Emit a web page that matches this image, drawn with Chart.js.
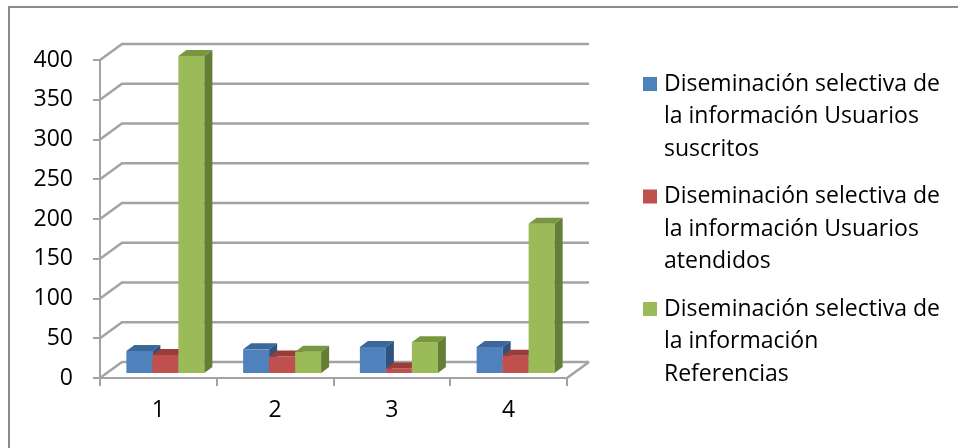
<!DOCTYPE html>
<html>
<head>
<meta charset="utf-8">
<script src="https://cdn.jsdelivr.net/npm/chart.js@4.4.1/dist/chart.umd.min.js"></script>
<style>
  html, body { margin: 0; padding: 0; background: #fff; }
  #wrap { position: relative; width: 958px; height: 448px; overflow: hidden; }
  #frame { position: absolute; left: 8px; top: 6px; width: 1000px; height: 500px;
           border: 2px solid #8c8c8c; pointer-events: none; }
</style>
</head>
<body>
<div id="wrap">
  <canvas id="chart" width="958" height="448"></canvas>
  <div id="frame"></div>
</div>
<script>
const categories = ["1", "2", "3", "4"];
const suscritos = [29, 31, 34, 34];
const atendidos = [24, 22, 7, 23];
const referencias = [400, 28, 40, 189];
const yTicks = [0, 50, 100, 150, 200, 250, 300, 350, 400];

const legendLines = [
  ["Diseminación selectiva de", "la información Usuarios", "suscritos"],
  ["Diseminación selectiva de", "la información Usuarios", "atendidos"],
  ["Diseminación selectiva de", "la información", "Referencias"]
];

const frontColors = ["#4F81BD", "#C0504D", "#9BBB59"];
const topColors = ["#3B679B", "#9A3D3A", "#7A973F"];
const sideColors = ["#2F5280", "#843230", "#657E35"];

const FONT = "'Open Sans', 'Liberation Sans', sans-serif";
const gridGray = "#a3a3a3";

// 3d offsets (wall depth and bar depth)
const wallDx = 22, wallDy = -16;
const barShiftX = 7, barShiftY = -4;
const barDx = 8, barDy = -6;

function drawFaces(ctx, bar, i) {
  const l = bar.x - bar.width / 2, r = bar.x + bar.width / 2;
  const t = bar.y, b = bar.base;
  ctx.fillStyle = topColors[i];
  ctx.beginPath();
  ctx.moveTo(l, t);
  ctx.lineTo(l + barDx, t + barDy);
  ctx.lineTo(r + barDx, t + barDy);
  ctx.lineTo(r, t);
  ctx.closePath();
  ctx.fill();
  ctx.fillStyle = sideColors[i];
  ctx.beginPath();
  ctx.moveTo(r, t);
  ctx.lineTo(r + barDx, t + barDy);
  ctx.lineTo(r + barDx, b + barDy);
  ctx.lineTo(r, b);
  ctx.closePath();
  ctx.fill();
}

const threeD = {
  id: "threeD",
  beforeDatasetsDraw(chart) {
    const { ctx, chartArea, scales } = chart;
    const y = scales.y;
    ctx.save();
    ctx.strokeStyle = gridGray;
    ctx.lineWidth = 2.5;
    yTicks.forEach(v => {
      const py = y.getPixelForValue(v);
      ctx.beginPath();
      ctx.moveTo(chartArea.left, py);
      ctx.lineTo(chartArea.left + wallDx, py + wallDy);
      ctx.lineTo(chartArea.right + wallDx, py + wallDy);
      ctx.stroke();
    });
    // floor right edge
    const p0 = y.getPixelForValue(0);
    ctx.beginPath();
    ctx.moveTo(chartArea.right, p0);
    ctx.lineTo(chartArea.right + wallDx, p0 + wallDy);
    ctx.stroke();
    ctx.restore();

    // bars left to right so each one hides the side of the previous
    ctx.save();
    ctx.translate(barShiftX, barShiftY);
    chart.data.datasets.forEach((ds, i) => {
      chart.getDatasetMeta(i).data.forEach(bar => {
        bar.draw(ctx);
        drawFaces(ctx, bar, i);
      });
    });
    ctx.restore();
    return false;
  },
  afterDraw(chart) {
    const ctx = chart.ctx;
    ctx.save();
    ctx.font = "23px " + FONT;
    ctx.textBaseline = "middle";
    ctx.textAlign = "left";
    const lineH = 32.5;
    let top = 84;
    legendLines.forEach((lines, i) => {
      ctx.fillStyle = frontColors[i];
      ctx.fillRect(643, top - 7, 14, 14);
      ctx.fillStyle = "#000";
      lines.forEach((s, k) => ctx.fillText(s, 664, top + k * lineH));
      top += lines.length * lineH + 15;
    });
    ctx.restore();
  }
};

new Chart(document.getElementById("chart"), {
  type: "bar",
  data: {
    labels: categories,
    datasets: [
      { label: legendLines[0].join(" "), data: suscritos, backgroundColor: frontColors[0] },
      { label: legendLines[1].join(" "), data: atendidos, backgroundColor: frontColors[1] },
      { label: legendLines[2].join(" "), data: referencias, backgroundColor: frontColors[2] }
    ]
  },
  options: {
    responsive: false,
    animation: false,
    devicePixelRatio: 1,
    layout: { padding: { top: 60, right: 391, bottom: 0, left: 0 } },
    datasets: { bar: { categoryPercentage: 0.668, barPercentage: 1 } },
    plugins: { legend: { display: false }, tooltip: { enabled: false } },
    scales: {
      x: {
        afterFit: s => { s.height = 70; },
        grid: { offset: true, drawOnChartArea: false, tickLength: 8, color: gridGray, lineWidth: 2 },
        border: { display: true, color: gridGray, width: 2 },
        ticks: { color: "#000", font: { family: FONT, size: 23 }, padding: 11 }
      },
      y: {
        min: 0,
        max: 400,
        afterFit: s => { s.width = 100; },
        afterBuildTicks: s => { s.ticks = yTicks.map(v => ({ value: v })); },
        grid: { drawOnChartArea: false, tickLength: 7, color: gridGray, lineWidth: 2 },
        border: { display: true, color: gridGray, width: 2 },
        ticks: { color: "#000", font: { family: FONT, size: 23 }, padding: 20 }
      }
    }
  },
  plugins: [threeD]
});
</script>
</body>
</html>
